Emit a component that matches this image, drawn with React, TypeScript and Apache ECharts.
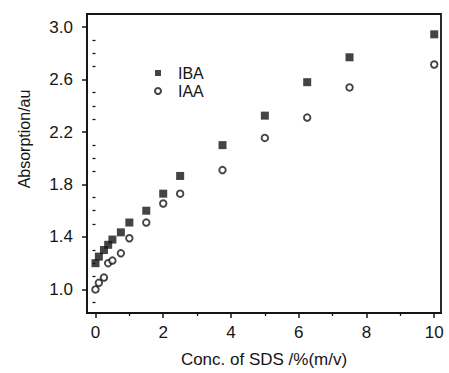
import React, { useEffect, useRef } from "react";
import * as echarts from "echarts";

const concIBA = [0, 0.1, 0.25, 0.375, 0.5, 0.75, 1.0, 1.5, 2.0, 2.5, 3.75, 5.0, 6.25, 7.5, 10];
const absIBA = [1.2, 1.25, 1.3, 1.34, 1.38, 1.435, 1.51, 1.6, 1.73, 1.865, 2.1, 2.325, 2.58, 2.77, 2.945];
const concIAA = [0, 0.1, 0.25, 0.375, 0.5, 0.75, 1.0, 1.5, 2.0, 2.5, 3.75, 5.0, 6.25, 7.5, 10];
const absIAA = [1.0, 1.05, 1.09, 1.2, 1.22, 1.275, 1.39, 1.51, 1.655, 1.73, 1.91, 2.155, 2.31, 2.54, 2.715];

const xMajorTicks = [0, 2, 4, 6, 8, 10];
const xMinorTicks = [1, 3, 5, 7, 9];
const yMajorTicks = [1.0, 1.4, 1.8, 2.2, 2.6, 3.0];
const yMinorTicks = [0.9, 1.1, 1.2, 1.3, 1.5, 1.6, 1.7, 1.9, 2.0, 2.1, 2.3, 2.4, 2.5, 2.7, 2.8, 2.9];

const FONT = "'Liberation Sans', Arial, sans-serif";
const INK = "#151515";

export default function App() {
  const ref = useRef<HTMLDivElement>(null);
  useEffect(() => {
    if (!ref.current) return;
    const chart = echarts.init(ref.current, undefined, { renderer: "svg" });
    const xRange = { min: -0.25, max: 10.2 };
    const yRange = { min: 0.82, max: 3.1 };
    chart.setOption({
      animation: false,
      backgroundColor: "#ffffff",
      grid: {
        left: 87,
        right: 8,
        top: 14,
        bottom: 58,
        show: true,
        borderColor: INK,
        borderWidth: 1.8,
        containLabel: false,
      },
      legend: {
        orient: "vertical",
        left: 149,
        top: 60,
        itemWidth: 6,
        itemHeight: 6,
        itemGap: 2,
        textStyle: { fontFamily: FONT, fontSize: 16, lineHeight: 16, color: INK, padding: [0, 0, 0, 12] },
        data: [
          { name: "IBA", icon: "rect" },
          { name: "IAA", icon: "circle" },
        ],
      },
      xAxis: [
        {
          type: "value",
          ...xRange,
          position: "bottom",
          axisLine: { show: true, onZero: false, lineStyle: { color: INK, width: 1.8 } },
          axisTick: { show: true, inside: false, length: 5, customValues: xMajorTicks, lineStyle: { color: INK, width: 1.5 } },
          axisLabel: { customValues: xMajorTicks, fontFamily: FONT, fontSize: 17, color: INK, margin: 11 },
          splitLine: { show: false },
          name: "Conc. of SDS /%(m/v)",
          nameLocation: "middle",
          nameGap: 38,
          nameTextStyle: { fontFamily: FONT, fontSize: 17, color: INK },
        },
        {
          type: "value",
          ...xRange,
          position: "bottom",
          axisLine: { show: false },
          axisTick: { show: true, inside: false, length: 3, customValues: xMinorTicks, lineStyle: { color: INK, width: 1.3 } },
          axisLabel: { show: false },
          splitLine: { show: false },
        },
      ],
      yAxis: [
        {
          type: "value",
          ...yRange,
          position: "left",
          axisLine: { show: true, onZero: false, lineStyle: { color: INK, width: 1.8 } },
          axisTick: { show: true, inside: false, length: 5, customValues: yMajorTicks, lineStyle: { color: INK, width: 1.5 } },
          axisLabel: {
            customValues: yMajorTicks,
            fontFamily: FONT,
            fontSize: 17,
            color: INK,
            margin: 14,
            formatter: (v: number) => v.toFixed(1),
          },
          splitLine: { show: false },
        },
        {
          type: "value",
          ...yRange,
          position: "left",
          axisLine: { show: false },
          axisTick: { show: true, inside: false, length: 3, customValues: yMinorTicks, lineStyle: { color: INK, width: 1.3 } },
          axisLabel: { show: false },
          splitLine: { show: false },
        },
      ],
      graphic: [
        {
          type: "text",
          x: 24,
          y: 139,
          rotation: Math.PI / 2,
          style: {
            text: "Absorption/au",
            fontFamily: FONT,
            fontSize: 16,
            fill: INK,
            align: "center",
            verticalAlign: "middle",
          },
        },
      ],
      series: [
        {
          name: "IBA",
          type: "scatter",
          xAxisIndex: 0,
          yAxisIndex: 0,
          symbol: "rect",
          symbolSize: 8,
          itemStyle: { color: INK },
          data: concIBA.map((c, i) => [c, absIBA[i]]),
        },
        {
          name: "IAA",
          type: "scatter",
          xAxisIndex: 0,
          yAxisIndex: 0,
          symbol: "circle",
          symbolSize: 6.5,
          itemStyle: { color: "#ffffff", borderColor: INK, borderWidth: 1.9 },
          data: concIAA.map((c, i) => [c, absIAA[i]]),
        },
      ],
    });
    return () => chart.dispose();
  }, []);
  return (
    <div
      ref={ref}
      style={{ position: "absolute", left: 0, top: 0, width: 449, height: 373, background: "#fff" }}
    />
  );
}
